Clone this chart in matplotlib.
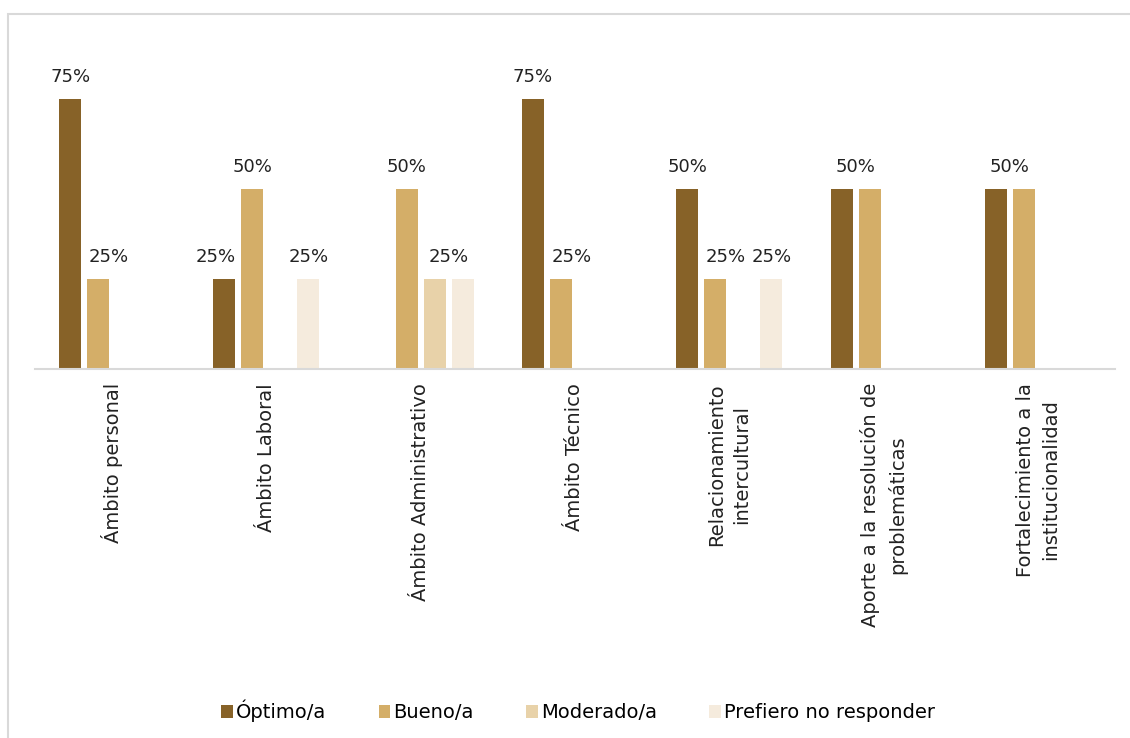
import numpy as np
import matplotlib
matplotlib.use("Agg")
import matplotlib.pyplot as plt
from matplotlib.patches import Rectangle

categories = [
    "Ámbito personal",
    "Ámbito Laboral",
    "Ámbito Administrativo",
    "Ámbito Técnico",
    "Relacionamiento\nintercultural",
    "Aporte a la resolución de\nproblemáticas",
    "Fortalecimiento a la\ninstitucionalidad",
]
series_names = ["Óptimo/a", "Bueno/a", "Moderado/a", "Prefiero no responder"]
# percentages per category (None = no bar)
optimo = [75, 25, None, 75, 50, 50, 50]
bueno = [25, 50, 50, 25, 25, 50, 50]
moderado = [None, None, 25, None, None, None, None]
prefiero = [None, 25, 25, None, 25, None, None]

colors = ["#876228", "#D4AE68", "#E8D2A9", "#F5EBDD"]

plt.rcParams["font.family"] = ["DejaVu Sans"]

fig = plt.figure(figsize=(11.3, 7.38), dpi=100)
ax = fig.add_axes([35 / 1130, 0.5, 1080 / 1130, 0.39])

x = np.arange(len(categories))
pitch = 28 / 154.3
width = 22 / 154.3
offsets = [-1.5 * pitch, -0.5 * pitch, 0.5 * pitch, 1.5 * pitch]
all_series = [optimo, bueno, moderado, prefiero]

for vals, name, col, off in zip(all_series, series_names, colors, offsets):
    xs = [xi + off for xi, v in zip(x, vals) if v is not None]
    ys = [v for v in vals if v is not None]
    ax.bar(xs, ys, width=width, color=col, label=name)

# value labels, Excel-style: one label for adjacent equal bars,
# nudged away from a taller neighbour
for i in range(len(categories)):
    v = [s[i] for s in all_series]
    j = 0
    while j < 4:
        if v[j] is None:
            j += 1
            continue
        lx = x[i] + offsets[j]
        if j + 1 < 4 and v[j + 1] == v[j]:
            lx = x[i] + (offsets[j] + offsets[j + 1]) / 2
            skip = 2
        else:
            skip = 1
            if j > 0 and v[j - 1] is not None and v[j - 1] > v[j]:
                lx += 0.07
            elif j + 1 < 4 and v[j + 1] is not None and v[j + 1] > v[j]:
                lx -= 0.055
        ax.text(lx, v[j] + 3.6, f"{v[j]}%", ha="center", va="bottom",
                fontsize=13, color="#222222")
        j += skip

ax.set_xlim(-0.5, len(categories) - 0.5)
ax.set_ylim(0, 80)
ax.set_yticks([])
ax.set_xticks(x)
ax.set_xticklabels(categories, rotation=90, fontsize=14, ha="center", va="top",
                   multialignment="center", linespacing=1.4, color="#222222")
ax.tick_params(axis="x", length=0, pad=10)
for s in ["top", "right", "left"]:
    ax.spines[s].set_visible(False)
ax.spines["bottom"].set_color("#D9D9D9")
ax.spines["bottom"].set_linewidth(1.5)

fig.legend(loc="center", bbox_to_anchor=(578 / 1130, 1 - 711 / 738), ncol=4, frameon=False,
           fontsize=14, handlelength=0.6, handleheight=0.6, handletextpad=0.15,
           columnspacing=2.7)

fig.add_artist(Rectangle((8 / 1130, -0.1), 1.2, 1.1 - 14 / 738, transform=fig.transFigure,
                         fill=False, edgecolor="#D9D9D9", linewidth=1.5))

fig.savefig("out.png", dpi=100)
